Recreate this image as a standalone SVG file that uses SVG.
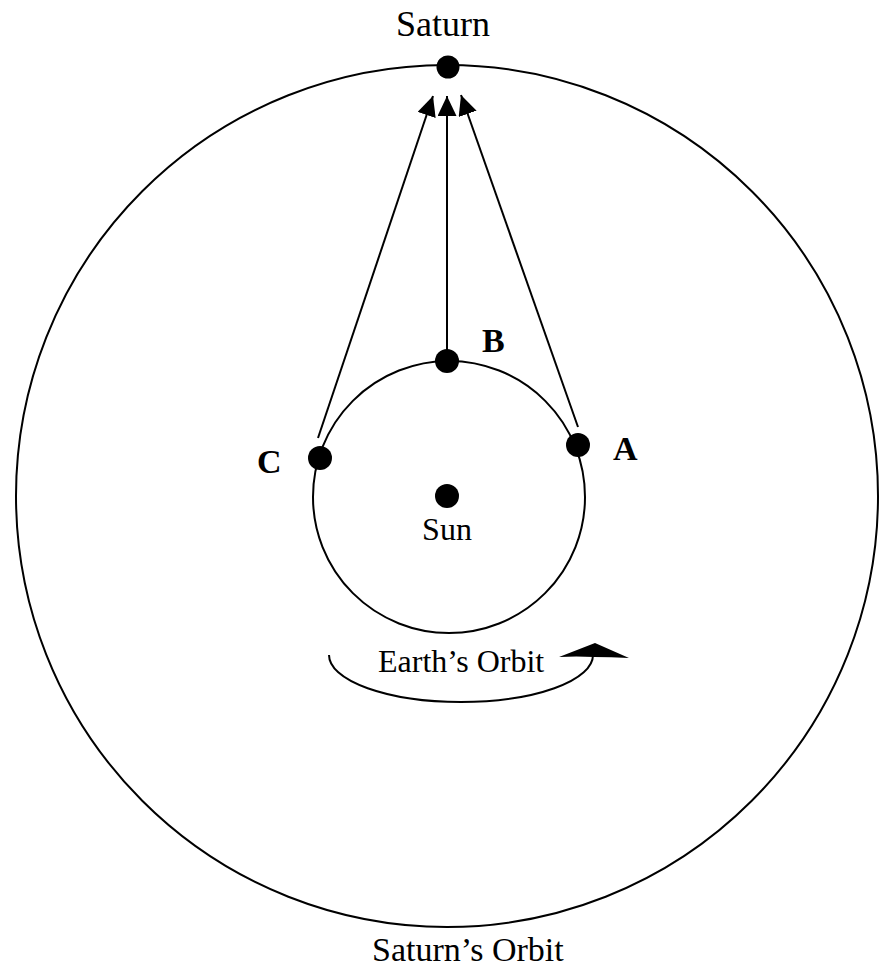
<svg xmlns="http://www.w3.org/2000/svg" width="886" height="970" viewBox="0 0 886 970">
<style>
.orbit{fill:none;stroke:#000;stroke-width:2}
.ray{fill:none;stroke:#000;stroke-width:2;marker-end:url(#ah)}
.dot{fill:#000}
.t{font-family:"Liberation Serif","Times New Roman",serif;fill:#000}
.lbl{font-family:"Liberation Serif","Times New Roman",serif;font-weight:bold;fill:#000;font-size:34px}
</style>
<defs>
<marker id="ah" markerUnits="userSpaceOnUse" markerWidth="22" markerHeight="20" refX="20" refY="9.5" orient="auto">
<path d="M0,0 L20,9.5 L0,19 z" fill="#000"/>
</marker>
</defs>
<rect width="886" height="970" fill="#fff"/>
<g id="saturn-orbit">
<circle class="orbit" cx="447" cy="496" r="431"/>
<text class="t" x="372" y="961" font-size="34">Saturn’s Orbit</text>
</g>
<g id="earth-orbit">
<circle class="orbit" cx="449" cy="497" r="136"/>
</g>
<g id="connectors">
<line class="ray" x1="318" y1="438" x2="433" y2="96"/>
<line class="ray" x1="447" y1="350" x2="447" y2="96"/>
<line class="ray" x1="578" y1="427" x2="461" y2="95"/>
</g>
<g id="orbit-arrow">
<path class="orbit" d="M329,655 A132,47 0 0 0 593,655" stroke-width="2.5"/>
<path d="M559,657 L595,643 L629,658 Q611,657 594,657 Q576,656 559,657 z" fill="#000"/>
<text class="t" x="378" y="672" font-size="32">Earth’s Orbit</text>
</g>
<g id="saturn">
<circle class="dot" cx="448" cy="67" r="11.5"/>
<text class="t" x="443" y="36" font-size="36" text-anchor="middle">Saturn</text>
</g>
<g id="sun">
<circle class="dot" cx="447" cy="496" r="12"/>
<text class="t" x="447" y="540" font-size="32" text-anchor="middle">Sun</text>
</g>
<g id="B">
<circle class="dot" cx="447" cy="361" r="12"/>
<text class="lbl" x="482" y="352">B</text>
</g>
<g id="C">
<circle class="dot" cx="320" cy="458" r="12"/>
<text class="lbl" x="257" y="473">C</text>
</g>
<g id="A">
<circle class="dot" cx="578" cy="445" r="12"/>
<text class="lbl" x="613" y="460">A</text>
</g>
</svg>
